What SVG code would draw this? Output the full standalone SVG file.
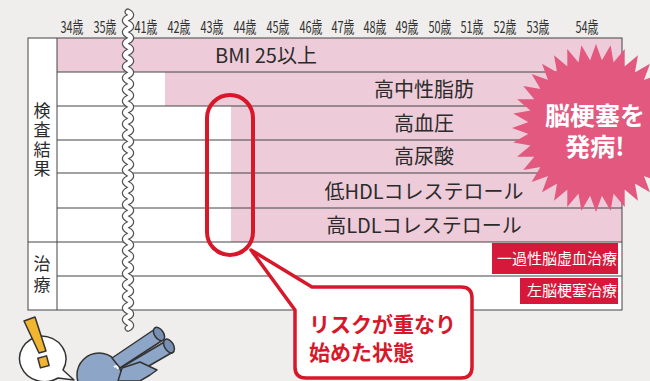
<svg xmlns="http://www.w3.org/2000/svg" xmlns:xlink="http://www.w3.org/1999/xlink" width="650" height="381" viewBox="0 0 650 381">
  <style>
    .age { font-family: "Noto Sans CJK JP", "Noto Sans", sans-serif; font-size: 16px; fill: #333; text-anchor: middle; }
    .row { font-family: "Noto Sans CJK JP", "Noto Sans", sans-serif; font-size: 20px; fill: #2b2b2b; text-anchor: middle; }
    .side { font-family: "Noto Sans CJK JP", sans-serif; font-size: 17px; fill: #2b2b2b; writing-mode: vertical-rl; }
    .tx { font-family: "Noto Sans CJK JP", sans-serif; font-size: 15px; fill: #fff; text-anchor: end; }
    .grid { stroke: #444; stroke-width: 1; fill: none; }
    .pink { fill: #eecbd8; }
    .red { fill: #d6193a; }
    .burst-t { font-family: "Noto Sans CJK JP", sans-serif; font-size: 25px; font-weight: bold; fill: #fff; text-anchor: middle; }
    .note { font-family: "Noto Sans CJK JP", sans-serif; font-size: 21px; font-weight: bold; fill: #d7182a; }
    .ink { stroke: #333; stroke-width: 1.5; stroke-linejoin: round; }
  </style>
  <defs>
    <polygon id="spike" points="-6.5,-66 0,-84 6.5,-66" fill="#e2587f"/>
    <path id="wave" d="M128 12 q5.5 2.9 0 5.75 t0 5.75 t0 5.75 t0 5.75 t0 5.75 t0 5.75 t0 5.75 t0 5.75 t0 5.75 t0 5.75 t0 5.75 t0 5.75 t0 5.75 t0 5.75 t0 5.75 t0 5.75 t0 5.75 t0 5.75 t0 5.75 t0 5.75 t0 5.75 t0 5.75 t0 5.75 t0 5.75 t0 5.75 t0 5.75 t0 5.75 t0 5.75 t0 5.75 t0 5.75 t0 5.75 t0 5.75 t0 5.75 t0 5.75 t0 5.75 t0 5.75 t0 5.75 t0 5.75 t0 5.75 t0 5.75 t0 5.75 t0 5.75 t0 5.75 t0 5.75 t0 5.75 t0 5.75 t0 5.75 t0 5.75 t0 5.75 t0 5.75 t0 5.75 t0 5.75 t0 5.75 t0 5.75 t0 5.75"/>
  </defs>

  <!-- page background -->
  <rect x="0" y="0" width="650" height="381" fill="#efeeed"/>

  <!-- age axis -->
  <g id="ages">
    <text class="age" x="72" y="33" textLength="23" lengthAdjust="spacingAndGlyphs">34歳</text>
    <text class="age" x="105" y="33" textLength="23" lengthAdjust="spacingAndGlyphs">35歳</text>
    <text class="age" x="146" y="33" textLength="23" lengthAdjust="spacingAndGlyphs">41歳</text>
    <text class="age" x="179" y="33" textLength="23" lengthAdjust="spacingAndGlyphs">42歳</text>
    <text class="age" x="212" y="33" textLength="23" lengthAdjust="spacingAndGlyphs">43歳</text>
    <text class="age" x="245" y="33" textLength="23" lengthAdjust="spacingAndGlyphs">44歳</text>
    <text class="age" x="278" y="33" textLength="23" lengthAdjust="spacingAndGlyphs">45歳</text>
    <text class="age" x="311" y="33" textLength="23" lengthAdjust="spacingAndGlyphs">46歳</text>
    <text class="age" x="343" y="33" textLength="23" lengthAdjust="spacingAndGlyphs">47歳</text>
    <text class="age" x="375" y="33" textLength="23" lengthAdjust="spacingAndGlyphs">48歳</text>
    <text class="age" x="407" y="33" textLength="23" lengthAdjust="spacingAndGlyphs">49歳</text>
    <text class="age" x="440" y="33" textLength="23" lengthAdjust="spacingAndGlyphs">50歳</text>
    <text class="age" x="472" y="33" textLength="23" lengthAdjust="spacingAndGlyphs">51歳</text>
    <text class="age" x="505" y="33" textLength="23" lengthAdjust="spacingAndGlyphs">52歳</text>
    <text class="age" x="538" y="33" textLength="23" lengthAdjust="spacingAndGlyphs">53歳</text>
    <text class="age" x="587" y="33" textLength="23" lengthAdjust="spacingAndGlyphs">54歳</text>
  </g>

  <!-- table body -->
  <g id="table">
    <rect x="28" y="38" width="594" height="272" fill="#fff"/>
    <rect class="pink" x="57" y="38" width="565" height="34"/>
    <rect class="pink" x="165" y="72" width="457" height="34"/>
    <rect class="pink" x="231" y="106" width="391" height="136"/>
    <rect class="red" x="492" y="243" width="126" height="31"/>
    <rect class="red" x="520" y="278" width="98" height="26"/>
    <rect class="grid" x="28" y="38" width="594" height="272"/>
    <path class="grid" d="M57 38V310 M57 72H622 M57 106H622 M57 140H622 M57 173H622 M57 208H622 M28 242H622 M57 276H622"/>
  </g>

  <!-- side headings -->
  <g id="heading-exam">
    <text class="side" x="42" y="102" letter-spacing="2.5">検査結果</text>
  </g>
  <g id="heading-treat">
    <text class="side" x="42" y="255" letter-spacing="4">治療</text>
  </g>

  <!-- row labels -->
  <g id="row-bmi"><text class="row" x="266" y="63">BMI 25以上</text></g>
  <g id="row-tg"><text class="row" x="424" y="97">高中性脂肪</text></g>
  <g id="row-bp"><text class="row" x="424" y="131">高血圧</text></g>
  <g id="row-ua"><text class="row" x="424" y="164">高尿酸</text></g>
  <g id="row-hdl"><text class="row" x="424" y="199">低HDLコレステロール</text></g>
  <g id="row-ldl"><text class="row" x="424" y="233">高LDLコレステロール</text></g>
  <g id="row-tia"><text class="tx" x="617" y="264">一過性脳虚血治療</text></g>
  <g id="row-ci"><text class="tx" x="617" y="296">左脳梗塞治療</text></g>

  <!-- axis break: white band with grey edges -->
  <g id="axis-break" fill="none" stroke-linecap="round">
    <use xlink:href="#wave" stroke="#555" stroke-width="7"/>
    <use xlink:href="#wave" stroke="#fff" stroke-width="4.5"/>
  </g>

  <!-- starburst -->
  <g id="burst">
    <g transform="translate(596,128)">
      <circle r="68" fill="#e2587f"/>
      <use href="#spike" transform="rotate(0)"/><use href="#spike" transform="rotate(10)"/>
      <use href="#spike" transform="rotate(20)"/><use href="#spike" transform="rotate(30)"/>
      <use href="#spike" transform="rotate(40)"/><use href="#spike" transform="rotate(50)"/>
      <use href="#spike" transform="rotate(60)"/><use href="#spike" transform="rotate(70)"/>
      <use href="#spike" transform="rotate(80)"/><use href="#spike" transform="rotate(90)"/>
      <use href="#spike" transform="rotate(100)"/><use href="#spike" transform="rotate(110)"/>
      <use href="#spike" transform="rotate(120)"/><use href="#spike" transform="rotate(130)"/>
      <use href="#spike" transform="rotate(140)"/><use href="#spike" transform="rotate(150)"/>
      <use href="#spike" transform="rotate(160)"/><use href="#spike" transform="rotate(170)"/>
      <use href="#spike" transform="rotate(180)"/><use href="#spike" transform="rotate(190)"/>
      <use href="#spike" transform="rotate(200)"/><use href="#spike" transform="rotate(210)"/>
      <use href="#spike" transform="rotate(220)"/><use href="#spike" transform="rotate(230)"/>
      <use href="#spike" transform="rotate(240)"/><use href="#spike" transform="rotate(250)"/>
      <use href="#spike" transform="rotate(260)"/><use href="#spike" transform="rotate(270)"/>
      <use href="#spike" transform="rotate(280)"/><use href="#spike" transform="rotate(290)"/>
      <use href="#spike" transform="rotate(300)"/><use href="#spike" transform="rotate(310)"/>
      <use href="#spike" transform="rotate(320)"/><use href="#spike" transform="rotate(330)"/>
      <use href="#spike" transform="rotate(340)"/><use href="#spike" transform="rotate(350)"/>
    </g>
    <text class="burst-t"><tspan x="595" y="125">脳梗塞を</tspan><tspan x="595" y="156">発病!</tspan></text>
  </g>

  <!-- highlight and callout -->
  <g id="highlight">
    <rect x="207" y="95" width="46" height="160" rx="23" fill="none" stroke="#d7182a" stroke-width="4"/>
  </g>
  <g id="callout">
    <path d="M251 250 L312 287 L461 287 Q472 287 472 298 L472 367 Q472 378 461 378 L306 378 Q295 378 295 367 L295 310 Z" fill="#fff" stroke="#d7182a" stroke-width="3.5" stroke-linejoin="round"/>
    <text class="note"><tspan x="309" y="332">リスクが重なり</tspan><tspan x="309" y="360">始めた状態</tspan></text>
  </g>

  <!-- figure with binoculars -->
  <g id="figure">
    <path class="ink" d="M40 336 A25 23 0 1 0 58 378 L74 380 L63 370 A25 23 0 0 0 40 336 Z" fill="#fff"/>
    <polygon class="ink" points="24,321 35,317 46,351 39,353" fill="#f1b52f"/>
    <rect class="ink" x="39" y="357" width="9" height="10" transform="rotate(-15 43 362)" fill="#f1b52f"/>
    <circle class="ink" cx="99" cy="375" r="22" fill="#8da5c7"/>
    <path class="ink" d="M112 358 L155 329 L163 340 L120 368 Z" fill="#8da5c7"/>
    <ellipse class="ink" cx="159" cy="334" rx="4.5" ry="7.5" transform="rotate(-34 159 334)" fill="#7890b4"/>
    <path class="ink" d="M122 367 L166 341 L173 352 L128 378 Z" fill="#8da5c7"/>
    <ellipse class="ink" cx="169" cy="346" rx="4.5" ry="7.5" transform="rotate(-30 169 346)" fill="#7890b4"/>
    <path class="ink" d="M118 381 L122 368 L140 362 L157 370 L150 375 L140 381 Z" fill="#8da5c7"/>
    <path d="M114 367 q3 -2 4 2" stroke="#fff" stroke-width="2" fill="none"/>
  </g>
</svg>
